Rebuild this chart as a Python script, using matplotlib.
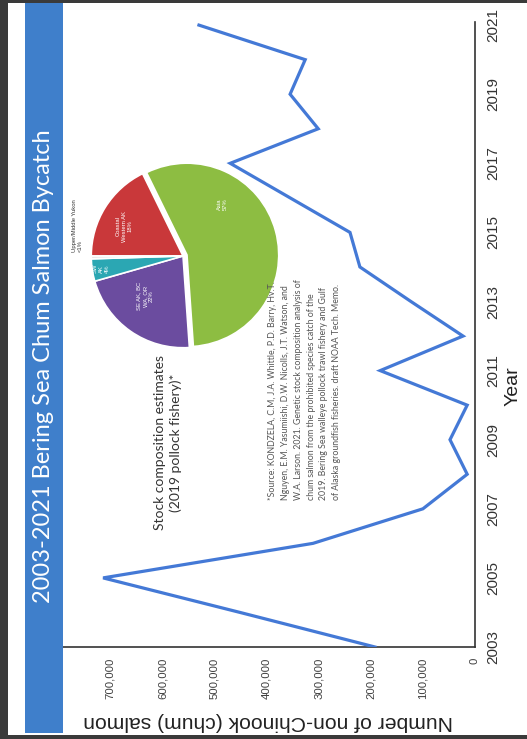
import matplotlib
matplotlib.use("Agg")
import matplotlib.pyplot as plt
from matplotlib.patches import Rectangle
from matplotlib.ticker import FuncFormatter
import numpy as np

# ---- data -------------------------------------------------------------
years = [2003, 2004, 2005, 2006, 2007, 2008, 2009, 2010, 2011, 2012,
         2013, 2014, 2015, 2016, 2017, 2018, 2019, 2020, 2021]
chum_bycatch = [192000, 451000, 714000, 311000, 100000, 15000, 48000, 15000,
                182000, 23000, 123000, 221000, 240000, 355000, 470000,
                301000, 355000, 326000, 530000]
value_ticks = [0, 100000, 200000, 300000, 400000, 500000, 600000, 700000]
year_ticks = list(range(2003, 2022, 2))

stock_names = ["Coastal\nWestern AK", "Asia", "SE AK, BC\nWA, OR", "SW\nAK",
               "Upper/Middle Yukon"]
stock_share = [18, 57, 22, 4, 0.5]
stock_share_text = ["18%", "57%", "22%", "4%", "<1%"]

title = "2003-2021 Bering Sea Chum Salmon Bycatch"
ylabel = "Number of non-Chinook (chum) salmon"
xlabel = "Year"
pie_caption = "Stock composition estimates\n(2019 pollock fishery)*"
citation = ("*Source: KONDZELA, C.M, J.A. Whittle, P.D. Barry, Hv.T.\n"
            "Nguyen, E.M. Yasumiishi, D.W. Nicolls, J.T. Watson, and\n"
            "W.A. Larson. 2021. Genetic stock composition analysis of\n"
            "chum salmon from the prohibited species catch of the\n"
            "2019. Bering Sea walleye pollock trawl fishery and Gulf\n"
            "of Alaska groundfish fisheries. draft NOAA Tech. Memo.")

# ---- figure (slide turned on its side) --------------------------------
W, H = 527, 739
fig = plt.figure(figsize=(W / 100, H / 100), dpi=100, facecolor="#3a3a3a")


def fx(x):
    return x / W


def fy(y):
    return 1 - y / H


# white slide area
fig.patches.append(Rectangle((fx(8), fy(735)), 1 - fx(8), (735 - 3) / H,
                             transform=fig.transFigure, facecolor="white",
                             edgecolor="none", zorder=-5))

# ---- line chart -------------------------------------------------------
ax = fig.add_axes([fx(63), fy(647), (475 - 63) / W, (647 - 22) / H])
ax.set_facecolor("none")
ax.plot(chum_bycatch, years, color="#4479d6", lw=2.3, solid_joinstyle="miter",
        zorder=3)
ax.set_xlim(791000, 0)
ax.set_ylim(2003, 2021.09)

for side in ("top", "left"):
    ax.spines[side].set_visible(False)
ax.spines["bottom"].set_color("#333333")
ax.spines["right"].set_color("#333333")
ax.spines["bottom"].set_linewidth(1.2)
ax.spines["right"].set_linewidth(1.2)

ax.set_xticks(value_ticks)
ax.xaxis.set_major_formatter(FuncFormatter(lambda v, p: f"{int(v):,}"))
ax.tick_params(axis="x", length=0, pad=8, labelsize=8.2, labelrotation=90,
               labelcolor="#404040")
for lab in ax.get_xticklabels():
    lab.set_fontfamily("Liberation Sans")
    lab.set_va("top")
    lab.set_ha("center")

ax.yaxis.tick_right()
ax.set_yticks(year_ticks)
ax.tick_params(axis="y", length=0, pad=8, labelsize=11, labelrotation=90,
               labelcolor="#333333")
for lab in ax.get_yticklabels():
    lab.set_fontfamily("Liberation Sans")
    lab.set_va("center")
    lab.set_ha("left")

fig.text(fx(268), fy(721), ylabel, rotation=180, ha="center", va="center",
         fontsize=15.2, family="Liberation Sans", color="#222222")
fig.text(fx(513), fy(386), xlabel, rotation=90, ha="center", va="center",
         fontsize=14, family="Liberation Sans", color="#222222")

# ---- title banner -----------------------------------------------------
fig.patches.append(Rectangle((fx(25), fy(733)), (63 - 25) / W, (733 - 3) / H,
                             transform=fig.transFigure, facecolor="#3f7fcb",
                             edgecolor="none", zorder=5))
fig.text(fx(44), fy(366), title, rotation=90, ha="center", va="center",
         fontsize=17, family="Lato", color="white", zorder=6)

# ---- stock composition pie --------------------------------------------
pie_colors = ["#c9383a", "#8dbd42", "#6b4c9f", "#2ba7b3", "#e8e8e8"]
pax = fig.add_axes([fx(183 - 100), fy(256 + 100), 200 / W, 200 / H])
wedges, _ = pax.pie(stock_share, colors=pie_colors, startangle=180,
                    counterclock=False, explode=[0, 0.045, 0, 0, 0],
                    wedgeprops=dict(edgecolor="white", linewidth=1.2))
pax.set_xlim(-1.09, 1.09)
pax.set_ylim(-1.09, 1.09)
pax.set_aspect("equal")
pax.axis("off")

label_radius = [0.72, 0.68, 0.6, 0.9]
label_angle_shift = [5, 40, -8, 0]
for w, name, pct, r, shift in zip(wedges[:4], stock_names[:4],
                                  stock_share_text[:4], label_radius,
                                  label_angle_shift):
    ang = np.deg2rad((w.theta1 + w.theta2) / 2 + shift)
    cx, cy = w.center
    pax.text(cx + r * np.cos(ang), cy + r * np.sin(ang), f"{name}\n{pct}",
             rotation=90, ha="center", va="center", fontsize=4.2,
             color="white", family="Liberation Sans", linespacing=1.3)

fig.text(fx(72), fy(252), f"{stock_names[4]}\n{stock_share_text[4]}",
         rotation=90, ha="left", va="bottom", fontsize=4.2,
         color="#333333", family="Liberation Sans", multialignment="left")

fig.text(fx(168), fy(443), pie_caption, rotation=90, ha="center", va="center",
         fontsize=10, family="Lato", color="#333333", linespacing=1.25)

fig.text(fx(268), fy(500), citation, rotation=90, ha="left", va="bottom",
         fontsize=6.3, family="Lato", color="#555555", linespacing=1.55,
         multialignment="left")

fig.savefig("out.png", dpi=100, facecolor=fig.get_facecolor())
